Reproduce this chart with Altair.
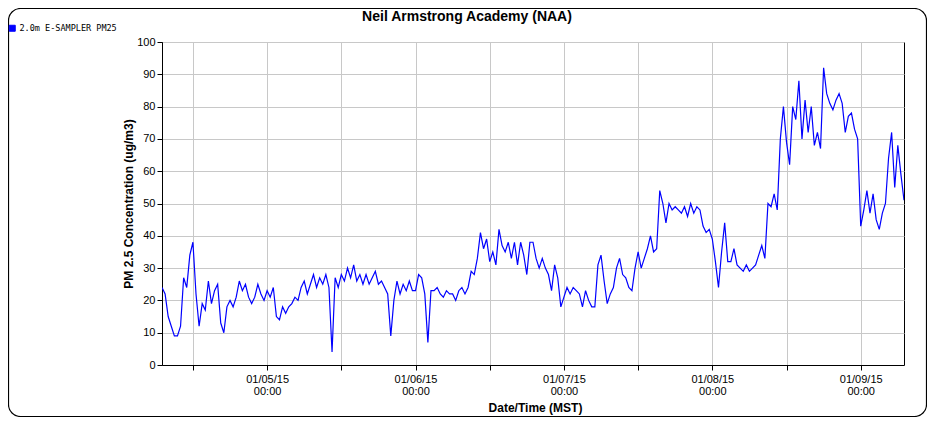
import altair as alt
import pandas as pd

# ---- data (30-minute samples from 01/04/15 07:00 MST) ----
start_time = "2015-01-04 07:00:00"
series_name = "2.0m E-SAMPLER PM25"
pm25 = [
    24, 22, 15, 12, 9, 9, 12, 27, 24, 34,
    38, 22, 12, 19, 17, 26, 19, 23, 25, 13,
    10, 18, 20, 18, 21, 26, 23, 25, 21, 19,
    21, 25, 22, 20, 23, 21, 24, 15, 14, 18,
    16, 18, 19, 21, 20, 24, 26, 22, 25, 28,
    24, 27, 25, 28, 24, 4, 27, 24, 28, 26,
    30, 27, 31, 26, 28, 25, 28, 25, 27, 29,
    25, 26, 24, 22, 9, 20, 26, 22, 25, 23,
    26, 23, 23, 28, 27, 22, 7, 23, 23, 24,
    22, 21, 23, 22, 22, 20, 23, 24, 22, 24,
    29, 28, 33, 41, 36, 39, 32, 35, 31, 42,
    37, 35, 38, 33, 38, 31, 38, 34, 28, 38,
    38, 33, 30, 33, 30, 28, 23, 31, 27, 18,
    21, 24, 22, 24, 23, 22, 18, 23, 20, 18,
    18, 31, 34, 26, 19, 22, 24, 30, 33, 28,
    27, 24, 23, 30, 35, 30, 33, 36, 40, 35,
    36, 54, 50, 44, 50, 48, 49, 48, 47, 49,
    46, 50, 47, 49, 48, 43, 41, 42, 39, 32,
    24, 35, 44, 32, 32, 36, 31, 30, 29, 31,
    29, 30, 31, 34, 37, 33, 50, 49, 53, 48,
    70, 80, 69, 62, 80, 76, 88, 70, 82, 72,
    80, 68, 72, 67, 92, 84, 81, 79, 82, 84,
    81, 72, 77, 78, 73, 70, 43, 48, 54, 47,
    53, 45, 42, 47, 50, 64, 72, 55, 68, 59,
    51,
]
y_ticks = list(range(0, 101, 10))
title_text = "Neil Armstrong Academy (NAA)"
y_title = "PM 2.5 Concentration (ug/m3)"
x_title = "Date/Time (MST)"

times = pd.date_range(start_time, periods=len(pm25), freq="30min")
df = pd.DataFrame({
    "time": times.strftime("%Y-%m-%dT%H:%M:%SZ"),
    "pm": pm25,
    "series": series_name,
})

x_domain = [
    alt.DateTime(year=2015, month=1, date=4, hours=7, utc=True),
    alt.DateTime(year=2015, month=1, date=9, hours=7, utc=True),
]
x_ticks = []
for d in range(4, 10):
    for h in (0, 12):
        if (d == 4 and h == 0) or (d == 9 and h == 12):
            continue
        x_ticks.append(alt.DateTime(year=2015, month=1, date=d, hours=h, utc=True))

FONT = "Liberation Sans"

line = alt.Chart(df).mark_line(strokeWidth=1.2, clip=True).encode(
    x=alt.X(
        "time:T",
        scale=alt.Scale(type="utc", domain=x_domain),
        axis=alt.Axis(
            values=x_ticks,
            labelExpr="utchours(datum.value) == 0 ? [utcFormat(datum.value, '%m/%d/%y'), utcFormat(datum.value, '%H:%M')] : ''",
            labelFont=FONT, labelFontSize=11, labelColor="black",
            labelLineHeight=12, labelPadding=3, labelOverlap=False, labelFlush=False,
            tickSize=5, tickColor="black", domainColor="black",
            grid=True, gridColor="#c8c8c8", gridWidth=1,
            title=x_title, titleFont=FONT, titleFontSize=12, titleFontWeight="bold",
            titleColor="black", titleX=373, titleY=42, titleAlign="center",
            titleBaseline="middle",
        ),
    ),
    y=alt.Y(
        "pm:Q",
        scale=alt.Scale(domain=[0, 100], nice=False),
        axis=alt.Axis(
            values=y_ticks,
            labelFont=FONT, labelFontSize=11, labelColor="black", labelPadding=2,
            tickSize=5, tickColor="black", domainColor="black",
            grid=True, gridColor="#c8c8c8", gridWidth=1,
            title=y_title, titleFont=FONT, titleFontSize=12, titleFontWeight="bold",
            titleColor="black", titleX=-34, titleY=161.5, titleAngle=270,
            titleAlign="center", titleBaseline="middle",
        ),
    ),
    color=alt.Color(
        "series:N",
        scale=alt.Scale(range=["#0000ff"]),
        legend=alt.Legend(
            title=None, orient="none", legendX=-154, legendY=-18,
            symbolType="square", symbolSize=36, symbolFillColor="#0000ff",
            symbolStrokeColor="#000060", symbolStrokeWidth=1, symbolOffset=0,
            labelFont="DejaVu Sans Mono", labelFontSize=8.5, labelColor="black",
            labelOffset=3, padding=0,
        ),
    ),
)

title_mark = alt.Chart(alt.Data(values=[{}])).mark_text(
    font=FONT, fontSize=14, fontWeight="bold", color="black",
    align="center", baseline="alphabetic",
).encode(
    x=alt.value(305), y=alt.value(-21), text=alt.value(title_text),
)

frame = alt.Chart(alt.Data(values=[{}])).mark_rect(
    filled=False, stroke="black", strokeWidth=1.2, cornerRadius=12
).encode(
    x=alt.value(-153.5), x2=alt.value(764.5),
    y=alt.value(-33.5), y2=alt.value(374.5),
)

chart = alt.layer(line, title_mark, frame).properties(
    width=742,
    height=323,
    autosize="none",
    padding={"left": 154, "top": 34, "right": 23, "bottom": 52},
).configure_view(stroke="black", strokeWidth=1)

chart.save("out.html", embed_options={"renderer": "svg", "actions": False})
